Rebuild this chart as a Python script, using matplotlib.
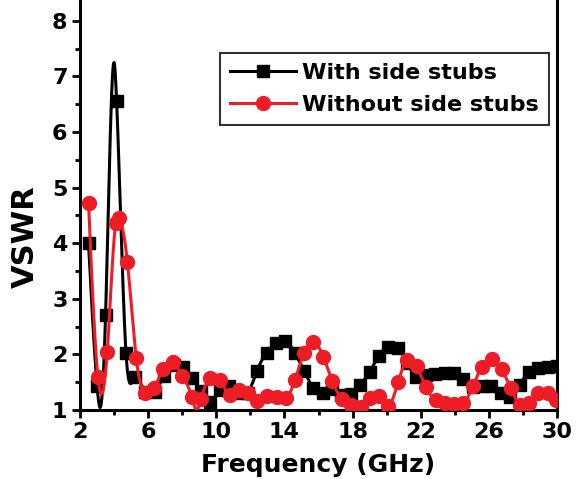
import numpy as np
import matplotlib
matplotlib.use("Agg")
import matplotlib.pyplot as plt
from matplotlib.ticker import MultipleLocator

plt.rcParams['font.family'] = ['DejaVu Sans']
plt.rcParams['font.weight'] = 'bold'

# With side stubs (black squares)
freq_with = [2.5, 3.0, 3.5, 4.15, 4.7, 5.2, 5.8, 6.4, 6.95, 7.5, 8.05, 8.6, 9.1, 9.65,
             10.2, 10.75, 11.3, 11.85, 12.4, 12.95, 13.5, 14.05, 14.6, 15.15, 15.7,
             16.25, 16.8, 17.35, 17.9, 18.45, 19.0, 19.55, 20.1, 20.65, 21.2, 21.75,
             22.3, 22.85, 23.4, 23.95, 24.5, 25.05, 25.6, 26.15, 26.7, 27.25, 27.8,
             28.35, 28.9, 29.45, 30.0]
vswr_with = [4.0, 1.44, 2.70, 6.55, 2.03, 1.59, 1.32, 1.33, 1.61, 1.81, 1.78, 1.57, 1.34,
             1.15, 1.36, 1.43, 1.31, 1.31, 1.71, 2.03, 2.20, 2.25, 2.03, 1.71, 1.39,
             1.30, 1.38, 1.27, 1.29, 1.45, 1.69, 1.97, 2.14, 2.12, 1.85, 1.60,
             1.63, 1.65, 1.66, 1.66, 1.55, 1.41, 1.44, 1.43, 1.30, 1.24, 1.45,
             1.69, 1.75, 1.78, 1.80]
# curve extremes between markers
extra_freq_with = [3.2, 4.0]
extra_vswr_with = [1.05, 7.25]

# Without side stubs (red circles)
freq_without = [2.5, 3.05, 3.6, 4.1, 4.3, 4.78, 5.3, 5.81, 6.35, 6.9, 7.44, 8.0, 8.57,
                9.1, 9.63, 10.2, 10.8, 11.35, 11.87, 12.4, 12.95, 13.54, 14.1, 14.62,
                15.16, 15.69, 16.28, 16.81, 17.39, 17.92, 18.5, 19.02, 19.56, 20.1,
                20.68, 21.21, 21.76, 22.31, 22.87, 23.42, 23.97, 24.5, 25.08, 25.58,
                26.16, 26.75, 27.29, 27.82, 28.35, 28.9, 29.48, 29.97]
vswr_without = [4.73, 1.60, 2.05, 4.37, 4.45, 3.67, 1.94, 1.30, 1.40, 1.74, 1.86, 1.61, 1.23,
                1.20, 1.57, 1.54, 1.27, 1.36, 1.31, 1.17, 1.25, 1.24, 1.21, 1.54,
                2.03, 2.23, 1.96, 1.52, 1.19, 1.09, 1.06, 1.21, 1.25, 1.07,
                1.51, 1.90, 1.79, 1.41, 1.18, 1.13, 1.11, 1.13, 1.43, 1.78,
                1.91, 1.73, 1.39, 1.09, 1.12, 1.30, 1.30, 1.18]
extra_freq_without = [8.85]
extra_vswr_without = [1.0]

x_ticks = [2, 6, 10, 14, 18, 22, 26, 30]
y_ticks = [1, 2, 3, 4, 5, 6, 7, 8]


def natural_spline(x, y, per_seg=20):
    order = np.argsort(x)
    x = np.asarray(x, float)[order]
    y = np.asarray(y, float)[order]
    n = len(x)
    h = np.diff(x)
    A = np.zeros((n, n))
    b = np.zeros(n)
    A[0, 0] = 1
    A[-1, -1] = 1
    for i in range(1, n - 1):
        A[i, i - 1] = h[i - 1]
        A[i, i] = 2 * (h[i - 1] + h[i])
        A[i, i + 1] = h[i]
        b[i] = 6 * ((y[i + 1] - y[i]) / h[i] - (y[i] - y[i - 1]) / h[i - 1])
    M = np.linalg.solve(A, b)
    xs, ys = [], []
    for i in range(n - 1):
        t = np.linspace(x[i], x[i + 1], per_seg, endpoint=False)
        a = x[i + 1] - t
        c = t - x[i]
        s = (M[i] * a**3 + M[i + 1] * c**3) / (6 * h[i]) \
            + (y[i] / h[i] - M[i] * h[i] / 6) * a \
            + (y[i + 1] / h[i] - M[i + 1] * h[i] / 6) * c
        xs.append(t)
        ys.append(s)
    xs.append([x[-1]])
    ys.append([y[-1]])
    return np.concatenate(xs), np.concatenate(ys)


fig = plt.figure(figsize=(5.76, 4.79), dpi=100)
ax = fig.add_axes([80 / 576, 69 / 479, 477 / 576, (410 + 2) / 479])

black = '#000000'
red = '#ee1c25'

xs, ys = natural_spline(freq_with + extra_freq_with, vswr_with + extra_vswr_with)
ax.plot(xs, ys, color=black, lw=2.2, zorder=2)
ax.plot(freq_with, vswr_with, ls='none', marker='s', ms=8.5, color=black, zorder=3)
xs, ys = natural_spline(freq_without + extra_freq_without, vswr_without + extra_vswr_without)
ax.plot(xs, ys, color=red, lw=2.2, zorder=4)
ax.plot(freq_without, vswr_without, ls='none', marker='o', ms=10, color=red, zorder=5)

# legend proxies
h1, = ax.plot([], [], color=black, lw=2.2, marker='s', ms=8.5)
h2, = ax.plot([], [], color=red, lw=2.2, marker='o', ms=10)

ax.set_xlim(2, 30)
ax.set_ylim(1, 1 + 412 / 55.6)
ax.set_xticks(x_ticks)
ax.set_yticks(y_ticks)
ax.xaxis.set_minor_locator(MultipleLocator(2))
ax.yaxis.set_minor_locator(MultipleLocator(0.5))
ax.tick_params(which='major', direction='out', length=6, width=2, labelsize=16, pad=3)
ax.tick_params(which='minor', direction='out', length=3.5, width=2)
for lab in ax.get_xticklabels() + ax.get_yticklabels():
    lab.set_fontweight('bold')
for s in ax.spines.values():
    s.set_linewidth(2.2)

ax.set_xlabel('Frequency (GHz)', fontsize=18, fontweight='bold', labelpad=7.5)
ax.set_ylabel('VSWR', fontsize=22, fontweight='bold')
ax.yaxis.set_label_coords((40 - 80) / 477, (410 - 237) / 412)

leg = ax.legend([h1, h2], ['With side stubs', 'Without side stubs'],
                loc='upper right', bbox_to_anchor=((549 - 80) / 477, (412 - 55) / 412),
                frameon=True, fancybox=False, edgecolor='black',
                handlelength=3.0, handletextpad=0.27, borderpad=0.45, labelspacing=0.55,
                borderaxespad=0, prop={'weight': 'bold', 'size': 16})
leg.get_frame().set_linewidth(1.5)

fig.savefig('out.png', dpi=100)
